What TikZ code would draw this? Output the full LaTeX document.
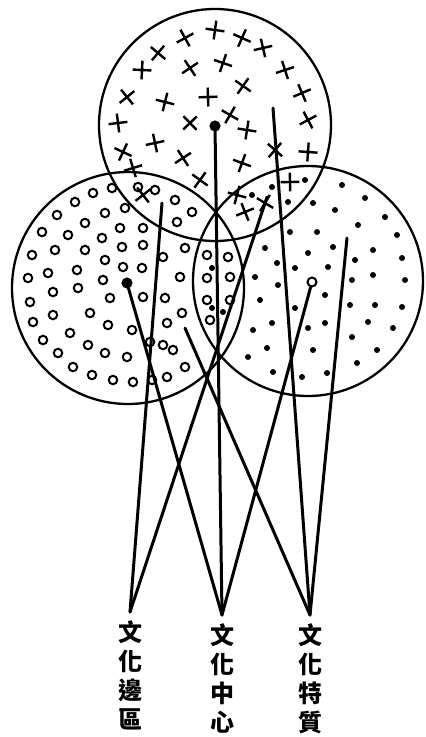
\documentclass[tikz,border=0pt]{standalone}
\usepackage{fontspec}
\newfontfamily\cjk{Noto Sans CJK TC}
\usetikzlibrary{positioning, shapes.misc}

\begin{document}
\begin{tikzpicture}[x=1pt, y=-1pt,
    region/.style={draw, line width=2.3pt},
    link/.style={line width=3pt, line cap=round},
    hub/.style={circle, draw, line width=2pt, fill=#1, minimum size=9pt, inner sep=0pt},
    crossmark/.style={cross out, draw, line width=2.4pt, minimum size=11pt, inner sep=0pt},
    ring/.style={circle, draw, line width=2pt, minimum size=8.5pt, inner sep=0pt},
    dot/.style={circle, fill, minimum size=6pt, inner sep=0pt},
    vlabel/.style={font=\cjk\bfseries\fontsize{24}{29}\selectfont, align=center, inner sep=0pt},
]
    \useasboundingbox (0,0) rectangle (426,737);

    % Three areas
    \draw[region] (215,125) circle[radius=116];
    \draw[region] (128,288) circle[radius=116];
    \draw[region] (308,281) circle[radius=115];

    % Crosses
    \foreach \x/\y [count=\i] in {215/30, 185/38, 242/38, 263/48, 158/53, 142/70, 190/68, 223/63,
        285/70, 243/86, 208/97, 127/97, 165/102, 302/93, 230/115, 118/123, 190/123, 247/130,
        308/120, 123/152, 155/143, 275/150, 308/152, 183/158, 242/163, 133/168, 200/180,
        290/182, 143/195, 237/195, 245/212, 265/203}
        \node[crossmark, rotate={mod(\i*37,90)}] (x\i) at (\x,\y) {};

    % Rings
    \foreach \x/\y [count=\i] in {112/188, 93/193, 75/202, 57/215, 42/232, 32/255, 28/278,
        30/302, 33/322, 43/340, 58/353, 73/367, 92/375, 113/380, 133/382, 152/380, 167/377,
        185/367, 173/350, 167/323, 182/313, 165/298, 143/297, 132/330, 127/357, 105/353,
        88/345, 70/333, 53/315, 53/292, 48/273, 55/250, 68/235, 85/223, 105/213, 125/208,
        138/187, 155/190, 175/200, 192/212, 177/222, 143/228, 120/228, 102/238, 85/250,
        77/270, 78/288, 90/313, 108/325, 110/298, 103/280, 105/260, 122/247, 143/245,
        142/268, 123/267, 163/257, 180/277, 185/248, 150/342, 163/345,
        207/255, 228/257, 207/278, 230/277, 207/300, 230/300, 210/320}
        \node[ring] (r\i) at (\x,\y) {};

    % Dots
    \foreach \x/\y [count=\i] in {342/185, 365/198, 385/217, 313/203, 335/210, 358/225,
        397/235, 290/232, 317/232, 265/248, 308/253, 333/247, 355/260, 373/250, 402/258,
        277/263, 295/268, 328/267, 255/277, 352/280, 373/275, 405/280, 278/285, 325/295,
        260/300, 295/308, 350/305, 375/305, 402/307, 272/323, 325/323, 308/328, 368/322,
        393/328, 253/330, 352/337, 267/348, 313/350, 377/350, 248/357, 357/363, 273/372,
        302/377, 327/373, 305/180, 288/202, 272/187, 252/195, 212/268, 212/308, 223/312}
        \node[dot] (d\i) at (\x,\y) {};

    % Centres
    \node[hub=black] (ctop) at (215,126) {};
    \node[hub=black] (cleft) at (127,283) {};
    \node[hub=white] (cright) at (312,282) {};

    % Other sources
    \coordinate (pL1) at (162,203);
    \coordinate (pL2) at (267,197);
    \coordinate (pR1) at (273,108);
    \coordinate (pR2) at (347,238);
    \coordinate (pR3) at (185,328);

    % Meeting points
    \coordinate (aL) at (130,612);
    \coordinate (aM) at (222,615);
    \coordinate (aR) at (310,615);

    \draw[link] (pL1) -- (aL);
    \draw[link] (pL2) -- (aL);
    \draw[link] (cleft) -- (aM);
    \draw[link] (ctop) -- (aM);
    \draw[link] (cright) -- (aM);
    \draw[link] (pR1) -- (aR);
    \draw[link] (pR2) -- (aR);
    \draw[link] (pR3) -- (aR);

    % Labels
    \node[vlabel, below=8pt of aL] (tBorder) {文\\化\\邊\\區};
    \node[vlabel, below=8pt of aM] (tCentre) {文\\化\\中\\心};
    \node[vlabel, below=8pt of aR] (tTrait) {文\\化\\特\\質};
\end{tikzpicture}
\end{document}
